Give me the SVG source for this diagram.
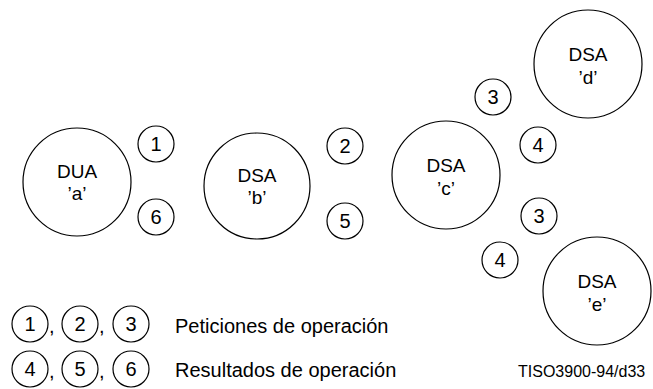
<svg xmlns="http://www.w3.org/2000/svg" width="653" height="389" viewBox="0 0 653 389">
<style>
.big{fill:#fff;stroke:#000;stroke-width:1.2}
.sm{fill:#fff;stroke:#000;stroke-width:1.2}
text{font-family:"Liberation Sans",Arial,sans-serif;fill:#000}
.n{font-size:19px;text-anchor:middle}
.d{font-size:20px;text-anchor:middle}
.l{font-size:20px}
.c{font-size:16px}
</style>
<rect width="653" height="389" fill="#fff"/>
<g id="dua-a"><circle class="big" cx="77" cy="182" r="54"/><text class="n" x="77" y="178">DUA</text><text class="n" x="77" y="200">’a’</text></g>
<g id="dsa-b"><circle class="big" cx="257" cy="186" r="53"/><text class="n" x="257" y="182">DSA</text><text class="n" x="257" y="204">’b’</text></g>
<g id="dsa-c"><circle class="big" cx="446" cy="175" r="54"/><text class="n" x="446" y="172">DSA</text><text class="n" x="446" y="195">’c’</text></g>
<g id="dsa-d"><circle class="big" cx="588" cy="64" r="54"/><text class="n" x="588" y="61">DSA</text><text class="n" x="588" y="84">’d’</text></g>
<g id="dsa-e"><circle class="big" cx="597" cy="291" r="54"/><text class="n" x="597" y="288">DSA</text><text class="n" x="597" y="311">’e’</text></g>
<g id="connectors">
<g id="op1"><circle class="sm" cx="156" cy="144" r="18"/><text class="d" x="156" y="151">1</text></g>
<g id="op6"><circle class="sm" cx="156" cy="217" r="18"/><text class="d" x="156" y="224">6</text></g>
<g id="op2"><circle class="sm" cx="345" cy="146" r="18"/><text class="d" x="345" y="153">2</text></g>
<g id="op5"><circle class="sm" cx="345" cy="221" r="18"/><text class="d" x="345" y="228">5</text></g>
<g id="op3d"><circle class="sm" cx="493" cy="97" r="18"/><text class="d" x="493" y="104">3</text></g>
<g id="op4d"><circle class="sm" cx="538" cy="145" r="18"/><text class="d" x="538" y="152">4</text></g>
<g id="op3e"><circle class="sm" cx="539" cy="216" r="18"/><text class="d" x="539" y="223">3</text></g>
<g id="op4e"><circle class="sm" cx="500" cy="260" r="18"/><text class="d" x="500" y="267">4</text></g>
</g>
<g id="legend">
<circle class="sm" cx="30" cy="324" r="18"/><text class="d" x="30" y="331">1</text><text class="l" x="49" y="333">,</text>
<circle class="sm" cx="80" cy="324" r="18"/><text class="d" x="80" y="331">2</text><text class="l" x="99" y="333">,</text>
<circle class="sm" cx="131" cy="324" r="18"/><text class="d" x="131" y="331">3</text>
<text class="l" x="175" y="333">Peticiones de operación</text>
<circle class="sm" cx="30" cy="369" r="18"/><text class="d" x="30" y="376">4</text><text class="l" x="49" y="378">,</text>
<circle class="sm" cx="80" cy="369" r="18"/><text class="d" x="80" y="376">5</text><text class="l" x="99" y="378">,</text>
<circle class="sm" cx="131" cy="369" r="18"/><text class="d" x="131" y="376">6</text>
<text class="l" x="175" y="377">Resultados de operación</text>
<text class="c" x="518" y="377">TISO3900-94/d33</text>
</g>
</svg>
